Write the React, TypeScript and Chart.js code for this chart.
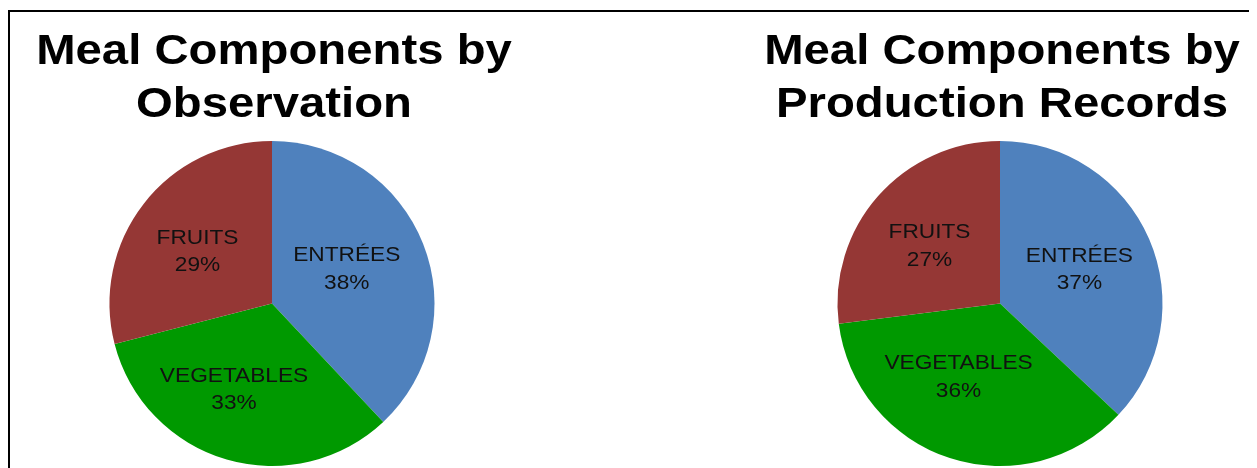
import React, { useEffect, useRef } from "react";
import { Chart, registerables } from "chart.js";

Chart.register(...registerables);

const categories = ["ENTRÉES", "VEGETABLES", "FRUITS"];
const observationValues = [38, 33, 29];
const productionValues = [37, 36, 27];
const observationTitle = ["Meal Components by", "Observation"];
const productionTitle = ["Meal Components by", "Production Records"];
const sliceColors = ["#4F81BD", "#009900", "#953735"];

const FONT = "'Liberation Sans', Arial, sans-serif";

// Label placement style (angle shift in degrees from slice mid-angle, radius as fraction of pie radius)
const observationLabelStyle = { angleShift: [-4, 8, -2], radius: [0.51, 0.57, 0.565] };
const productionLabelStyle = { angleShift: [-0.6, 12, -1.4], radius: [0.535, 0.51, 0.566] };

const titlePlugin = {
  id: "stretchedTitle",
  afterDraw(chart: any, _args: any, opts: any) {
    const ctx = chart.ctx;
    const area = chart.chartArea;
    const cx = (area.left + area.right) / 2 + 2;
    ctx.save();
    ctx.font = `bold 43px ${FONT}`;
    ctx.fillStyle = "#000";
    ctx.textAlign = "center";
    ctx.textBaseline = "alphabetic";
    const lines: string[] = opts.text || [];
    lines.forEach((line, i) => {
      ctx.save();
      ctx.translate(cx, 52 + i * 53);
      ctx.scale(1.1, 1);
      ctx.fillText(line, 0, 0);
      ctx.restore();
    });
    ctx.restore();
  },
};

const sliceLabelPlugin = {
  id: "sliceLabels",
  afterDatasetsDraw(chart: any, _args: any, opts: any) {
    const ctx = chart.ctx;
    const meta = chart.getDatasetMeta(0);
    const data = chart.data.datasets[0].data;
    const labels = chart.data.labels;
    ctx.save();
    ctx.font = `21px ${FONT}`;
    ctx.fillStyle = "#111";
    ctx.textAlign = "center";
    ctx.textBaseline = "alphabetic";
    meta.data.forEach((arc: any, i: number) => {
      const p = arc.getProps(["x", "y", "startAngle", "endAngle", "outerRadius"], true);
      const mid = (p.startAngle + p.endAngle) / 2 + ((opts.angleShift?.[i] || 0) * Math.PI) / 180;
      const r = p.outerRadius * (opts.radius?.[i] ?? 0.54);
      const cx = p.x + Math.cos(mid) * r;
      const cy = p.y + Math.sin(mid) * r;
      const lines = [String(labels[i]), `${data[i]}%`];
      const offsets = [-6.25, 21.25];
      lines.forEach((t, j) => {
        ctx.save();
        ctx.translate(cx, cy + offsets[j]);
        ctx.scale(1.08, 1);
        ctx.fillText(t, 0, 0);
        ctx.restore();
      });
    });
    ctx.restore();
  },
};

function PieChart({
  title,
  values,
  left,
  labelStyle,
}: {
  title: string[];
  values: number[];
  left: number;
  labelStyle: { angleShift: number[]; radius: number[] };
}) {
  const ref = useRef<HTMLCanvasElement | null>(null);
  useEffect(() => {
    if (!ref.current) return;
    const chart = new Chart(ref.current, {
      type: "pie",
      data: {
        labels: categories,
        datasets: [
          {
            data: values,
            backgroundColor: sliceColors,
            borderWidth: 0,
          },
        ],
      },
      options: {
        animation: false,
        responsive: false,
        maintainAspectRatio: false,
        layout: { padding: { top: 129, bottom: 2, left: 0, right: 0 } },
        plugins: {
          legend: { display: false },
          tooltip: { enabled: false },
          title: { display: false },
          stretchedTitle: { text: title },
          sliceLabels: labelStyle,
        } as any,
      },
      plugins: [sliceLabelPlugin, titlePlugin],
    });
    return () => chart.destroy();
  }, []);
  return (
    <canvas
      ref={ref}
      width={500}
      height={456}
      style={{ position: "absolute", left, top: 4, width: 500, height: 456 }}
    />
  );
}

export default function App() {
  return (
    <div style={{ position: "relative", width: 1249, height: 460, overflow: "hidden", background: "#fff" }}>
      <div
        style={{
          position: "absolute",
          left: 0,
          top: 2,
          width: 1400,
          height: 600,
          borderTop: "2px solid #000",
          borderLeft: "2px solid #000",
        }}
      />
      <PieChart title={observationTitle} values={observationValues} left={14} labelStyle={observationLabelStyle} />
      <PieChart title={productionTitle} values={productionValues} left={742} labelStyle={productionLabelStyle} />
    </div>
  );
}
